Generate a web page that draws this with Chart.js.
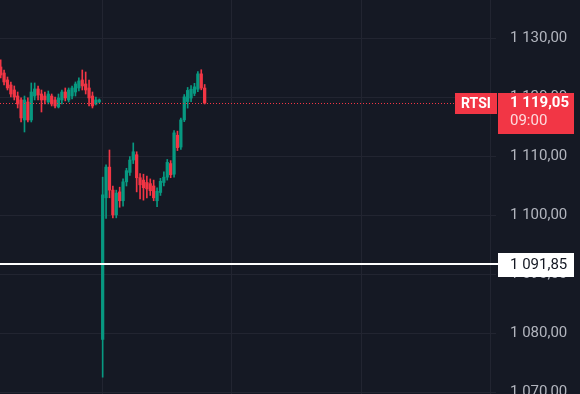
<!DOCTYPE html>
<html lang="ru">
<head>
  <meta charset="UTF-8" />
  <title>RTSI</title>
  <script src="https://cdn.jsdelivr.net/npm/chart.js"></script>
  <style>
    html, body { margin: 0; padding: 0; background: #151924; }
    #wrap { width: 580px; height: 394px; }
  </style>
</head>
<body>
  <div id="wrap"><canvas id="chart" width="580" height="394"></canvas></div>

  <script>
    // Данные свечей (индекс бара = позиция на оси времени)
    const opens = [1125.17, 1124.15, 1122.97, 1122.12, 1121.27, 1120.25, 1119.58, 1116.19, 1119.24, 1116.19,
      1120.25, 1121.44, 1120.59, 1120.25, 1119.24, 1120.25, 1119.58, 1118.39, 1119.58, 1120.93,
      1119.58, 1120.25, 1120.93, 1121.61, 1122.97, 1122.29, 1121.61, 1120.25, 1118.90, 1119.24,
      1079.00, 1103.00, 1108.20, 1104.30, 1100.10, 1104.00, 1102.50, 1105.70, 1107.30, 1109.40,
      1110.30, 1106.40, 1106.00, 1105.60, 1105.40, 1105.00, 1102.50, 1103.90, 1105.60, 1106.50,
      1108.80, 1107.00, 1113.60, 1111.60, 1116.20, 1119.30, 1119.90, 1120.70, 1121.40, 1124.00, 1121.60];
    const highs = [1126.36, 1124.66, 1123.47, 1122.63, 1121.95, 1120.93, 1119.92, 1120.25, 1119.92, 1122.46,
      1122.46, 1121.95, 1121.27, 1120.93, 1121.10, 1120.59, 1120.08, 1120.59, 1121.27, 1121.61,
      1121.61, 1121.95, 1122.63, 1123.31, 1124.66, 1124.32, 1122.97, 1120.93, 1120.08, 1119.75,
      1106.50, 1108.60, 1111.10, 1105.00, 1104.30, 1104.80, 1106.20, 1108.00, 1110.00, 1112.30,
      1110.80, 1107.10, 1107.00, 1106.70, 1106.20, 1106.00, 1104.70, 1106.30, 1107.40, 1109.50,
      1109.30, 1114.40, 1114.30, 1116.50, 1120.50, 1121.70, 1122.00, 1122.40, 1124.40, 1124.70, 1122.20];
    const lows = [1123.31, 1122.12, 1121.27, 1120.08, 1119.58, 1118.22, 1115.85, 1114.15, 1115.85, 1115.85,
      1119.58, 1119.58, 1117.54, 1118.90, 1118.90, 1118.56, 1118.22, 1118.22, 1118.90, 1119.41,
      1119.24, 1119.75, 1120.25, 1121.10, 1121.27, 1120.59, 1118.56, 1118.22, 1118.73, 1119.07,
      1072.60, 1099.50, 1103.00, 1099.60, 1099.60, 1101.40, 1101.60, 1105.00, 1106.80, 1108.80,
      1104.00, 1102.80, 1102.60, 1103.00, 1103.40, 1102.50, 1101.50, 1103.40, 1105.00, 1106.00,
      1106.40, 1106.50, 1111.00, 1111.20, 1115.90, 1118.20, 1119.30, 1120.30, 1121.00, 1121.30, 1118.90];
    const closes = [1123.81, 1122.63, 1121.61, 1120.59, 1120.08, 1118.90, 1116.53, 1119.58, 1116.19, 1120.93,
      1121.44, 1120.42, 1119.58, 1119.58, 1120.59, 1118.90, 1118.56, 1119.92, 1120.93, 1119.92,
      1121.27, 1121.61, 1122.29, 1122.80, 1121.95, 1121.27, 1119.92, 1118.56, 1119.58, 1119.58,
      1103.50, 1108.20, 1104.30, 1100.10, 1103.80, 1102.50, 1105.70, 1107.60, 1109.40, 1110.80,
      1106.40, 1105.20, 1104.70, 1104.50, 1104.20, 1103.00, 1104.10, 1105.80, 1106.50, 1109.00,
      1106.90, 1114.00, 1111.50, 1116.20, 1120.10, 1121.20, 1121.40, 1121.80, 1124.00, 1121.60, 1119.05];

    const priceTicks = [1070, 1080, 1090, 1100, 1110, 1120, 1130];
    const timeGrid = [30, 68, 106, 144];
    const symbol = 'RTSI';
    const countdown = '09:00';
    const levelPrice = 1091.85;

    const UP = '#089981';
    const DOWN = '#f23645';
    const FONT = 'Roboto, "Noto Sans", sans-serif';

    function fmt(v) {
      const parts = v.toFixed(2).split('.');
      return parts[0].replace(/\B(?=(\d{3})+(?!\d))/g, ' ') + ',' + parts[1];
    }

    const colors = opens.map((o, i) => closes[i] >= o ? UP : DOWN);
    const wicks = opens.map((o, i) => ({ x: i, y: [lows[i], highs[i]] }));
    const bodies = opens.map((o, i) => ({ x: i, y: [Math.min(o, closes[i]), Math.max(o, closes[i])] }));

    // без отступов под подписи — область графика на всю высоту
    function noPad(axis) {
      axis.paddingTop = 0;
      axis.paddingBottom = 0;
      axis.paddingLeft = 0;
      axis.paddingRight = 0;
    }

    // Линии цены и плашки справа
    const overlay = {
      id: 'overlay',
      afterDatasetsDraw(chart) {
        const c = chart.ctx;
        const y = chart.scales.y;
        const area = chart.chartArea;
        const last = closes[closes.length - 1];
        const py = Math.round(y.getPixelForValue(last)) + 0.5;
        const ly = Math.round(y.getPixelForValue(levelPrice));

        c.save();
        // пунктир последней цены
        c.strokeStyle = DOWN;
        c.lineWidth = 1;
        c.setLineDash([1, 2]);
        c.beginPath();
        c.moveTo(area.left, py);
        c.lineTo(456, py);
        c.stroke();
        c.setLineDash([]);

        // горизонтальный уровень
        c.fillStyle = '#ffffff';
        c.fillRect(0, ly - 1, 498, 2);
        c.fillRect(498, ly - 11, 76, 24);
        c.fillStyle = '#131722';
        c.font = '15px ' + FONT;
        c.textBaseline = 'middle';
        c.fillText(fmt(levelPrice), 510, ly + 1);

        // плашки RTSI и цены
        c.fillStyle = DOWN;
        c.fillRect(455, py - 10.5, 42, 21);
        c.fillRect(498, py - 10.5, 76, 41);
        c.fillStyle = '#ffffff';
        c.font = 'bold 14px ' + FONT;
        c.fillText(symbol, 461, py + 0.5);
        c.font = 'bold 15px ' + FONT;
        c.fillText(fmt(last), 510, py);
        c.fillStyle = 'rgba(255,255,255,0.82)';
        c.font = '15px ' + FONT;
        c.fillText(countdown, 510, py + 18);
        c.restore();
      }
    };

    new Chart(document.getElementById('chart'), {
      type: 'bar',
      data: {
        datasets: [
          { data: wicks, backgroundColor: colors, barThickness: 1, grouped: false, borderWidth: 0 },
          { data: bodies, backgroundColor: colors, barThickness: 2.6, grouped: false, borderWidth: 0, minBarLength: 1 }
        ]
      },
      options: {
        responsive: false,
        animation: false,
        layout: { padding: 0 },
        plugins: { legend: { display: false }, tooltip: { enabled: false } },
        scales: {
          x: {
            type: 'linear',
            min: -0.2,
            max: 145.7,
            offset: false,
            border: { display: false },
            grid: { color: '#222531', offset: false, drawTicks: false, lineWidth: 1 },
            ticks: { display: false },
            afterBuildTicks: (axis) => { axis.ticks = timeGrid.map(v => ({ value: v })); },
            afterFit: (axis) => { axis.height = 0; noPad(axis); }
          },
          y: {
            position: 'right',
            min: 1069.75,
            max: 1136.52,
            beginAtZero: false,
            border: { display: false },
            grid: { color: '#222531', drawTicks: false, lineWidth: 1 },
            afterBuildTicks: (axis) => { axis.ticks = priceTicks.map(v => ({ value: v })); },
            afterFit: (axis) => { axis.width = 84; noPad(axis); },
            ticks: {
              autoSkip: false,
              padding: 14,
              color: '#b2b5be',
              font: { family: FONT, size: 15 },
              callback: (v) => fmt(v)
            }
          }
        }
      },
      plugins: [overlay]
    });
  </script>
</body>
</html>
